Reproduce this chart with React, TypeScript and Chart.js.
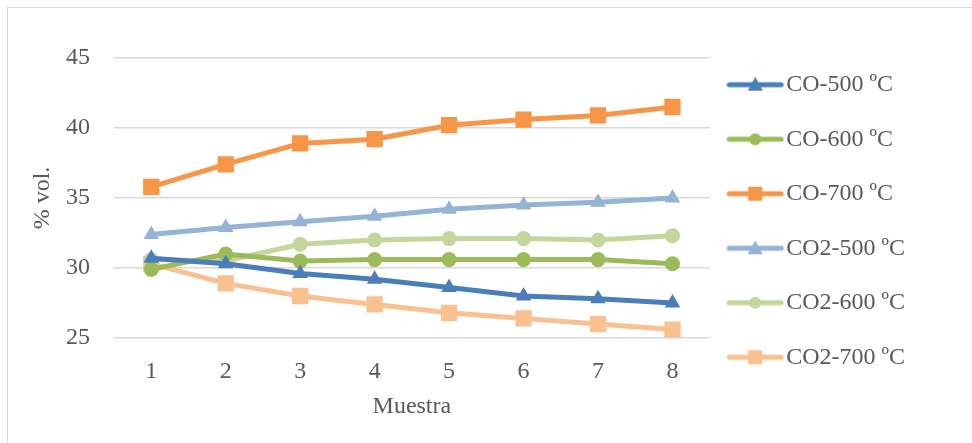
import React, { useEffect, useRef } from "react";
import { Chart, registerables } from "chart.js";

Chart.register(...registerables);

const categories = ["1", "2", "3", "4", "5", "6", "7", "8"];
const seriesNames = ["CO-500 ºC", "CO-600 ºC", "CO-700 ºC", "CO2-500 ºC", "CO2-600 ºC", "CO2-700 ºC"];
const co500 = [30.7, 30.3, 29.6, 29.2, 28.6, 28.0, 27.8, 27.5];
const co600 = [29.9, 31.0, 30.5, 30.6, 30.6, 30.6, 30.6, 30.3];
const co700 = [35.8, 37.4, 38.9, 39.2, 40.2, 40.6, 40.9, 41.5];
const co2500 = [32.4, 32.9, 33.3, 33.7, 34.2, 34.5, 34.7, 35.0];
const co2600 = [30.6, 30.5, 31.7, 32.0, 32.1, 32.1, 32.0, 32.3];
const co2700 = [30.3, 28.9, 28.0, 27.4, 26.8, 26.4, 26.0, 25.6];
const seriesValues = [co500, co600, co700, co2500, co2600, co2700];
const colors = ["#4a7ebb", "#9bbb59", "#f79646", "#95b3d7", "#c3d69b", "#fac090"];
const markers = ["triangle", "circle", "rect", "triangle", "circle", "rect"];
const radii = [9, 7.5, 11.5, 9, 7.5, 11.5];

const yMin = 25;
const yMax = 45;
const yStep = 5;

const FONT = "'Liberation Serif', serif";
const TEXT = "#595959";
const FS = 24;

function legendImage(color: string, marker: string): HTMLCanvasElement {
  const c = document.createElement("canvas");
  c.width = 80;
  c.height = 20;
  const ctx = c.getContext("2d")!;
  const a = 10;
  ctx.strokeStyle = color;
  ctx.lineWidth = 5;
  ctx.lineCap = "round";
  ctx.beginPath();
  ctx.moveTo(a + 2, 10);
  ctx.lineTo(a + 54, 10);
  ctx.stroke();
  ctx.fillStyle = color;
  const cx = a + 28;
  if (marker === "circle") {
    ctx.beginPath();
    ctx.arc(cx, 10, 6, 0, Math.PI * 2);
    ctx.fill();
  } else if (marker === "rect") {
    ctx.fillRect(cx - 7, 3, 14, 14);
  } else {
    ctx.beginPath();
    ctx.moveTo(cx, 2);
    ctx.lineTo(cx + 7.5, 16);
    ctx.lineTo(cx - 7.5, 16);
    ctx.closePath();
    ctx.fill();
  }
  return c;
}

export default function App() {
  const ref = useRef<HTMLCanvasElement>(null);
  useEffect(() => {
    const images = colors.map((c, i) => legendImage(c, markers[i]));
    const chart = new Chart(ref.current!, {
      type: "line",
      data: {
        labels: categories,
        datasets: seriesNames.map((name, i) => ({
          label: name,
          data: seriesValues[i],
          borderColor: colors[i],
          backgroundColor: colors[i],
          borderWidth: 5,
          pointStyle: markers[i] as any,
          pointRadius: radii[i],
          pointBorderWidth: 0,
          pointBackgroundColor: colors[i],
          tension: 0,
        })),
      },
      options: {
        animation: false,
        responsive: false,
        layout: { padding: { left: 16, top: 9, right: 50, bottom: 18 } },
        plugins: {
          tooltip: { enabled: false },
          title: {
            display: true,
            text: "",
            fullSize: false,
            font: { size: 10, lineHeight: 1.2 },
            padding: { top: 14.5, bottom: 14.5 },
          },
          legend: {
            position: "right",
            labels: {
              usePointStyle: true,
              pointStyleWidth: 34,
              padding: 30.5,
              color: TEXT,
              font: { family: FONT, size: FS },
              generateLabels: (ch: any) =>
                ch.data.datasets.map((d: any, i: number) => ({
                  text: d.label,
                  pointStyle: images[i],
                  fillStyle: colors[i],
                  strokeStyle: colors[i],
                  lineWidth: 0,
                  fontColor: TEXT,
                  hidden: false,
                  datasetIndex: i,
                })),
            },
          },
        },
        scales: {
          x: {
            offset: true,
            grid: { display: false, drawTicks: false },
            border: { display: false },
            ticks: { color: TEXT, font: { family: FONT, size: FS }, padding: 19 },
            title: {
              display: true,
              text: "Muestra",
              color: TEXT,
              font: { family: FONT, size: FS },
              padding: { top: 4, bottom: 4 },
            },
            afterFit: (s: any) => {
              s.height = 87;
            },
          },
          y: {
            min: yMin,
            max: yMax,
            ticks: { stepSize: yStep, color: TEXT, font: { family: FONT, size: FS }, padding: 24 },
            grid: { color: "#d9d9d9", lineWidth: 1.5, drawTicks: false },
            border: { display: false },
            title: {
              display: true,
              text: "% vol.",
              color: TEXT,
              font: { family: FONT, size: FS },
              padding: { top: 4, bottom: 4 },
            },
            afterFit: (s: any) => {
              s.width = 90;
            },
          },
        },
      },
    });
    return () => chart.destroy();
  }, []);
  return (
    <div
      style={{
        position: "absolute",
        left: 7,
        top: 7,
        width: 1000,
        height: 500,
        border: "1px solid #d9d9d9",
        boxSizing: "border-box",
      }}
    >
      <canvas ref={ref} width={957} height={435} style={{ position: "absolute", left: 0, top: 0 }} />
    </div>
  );
}
